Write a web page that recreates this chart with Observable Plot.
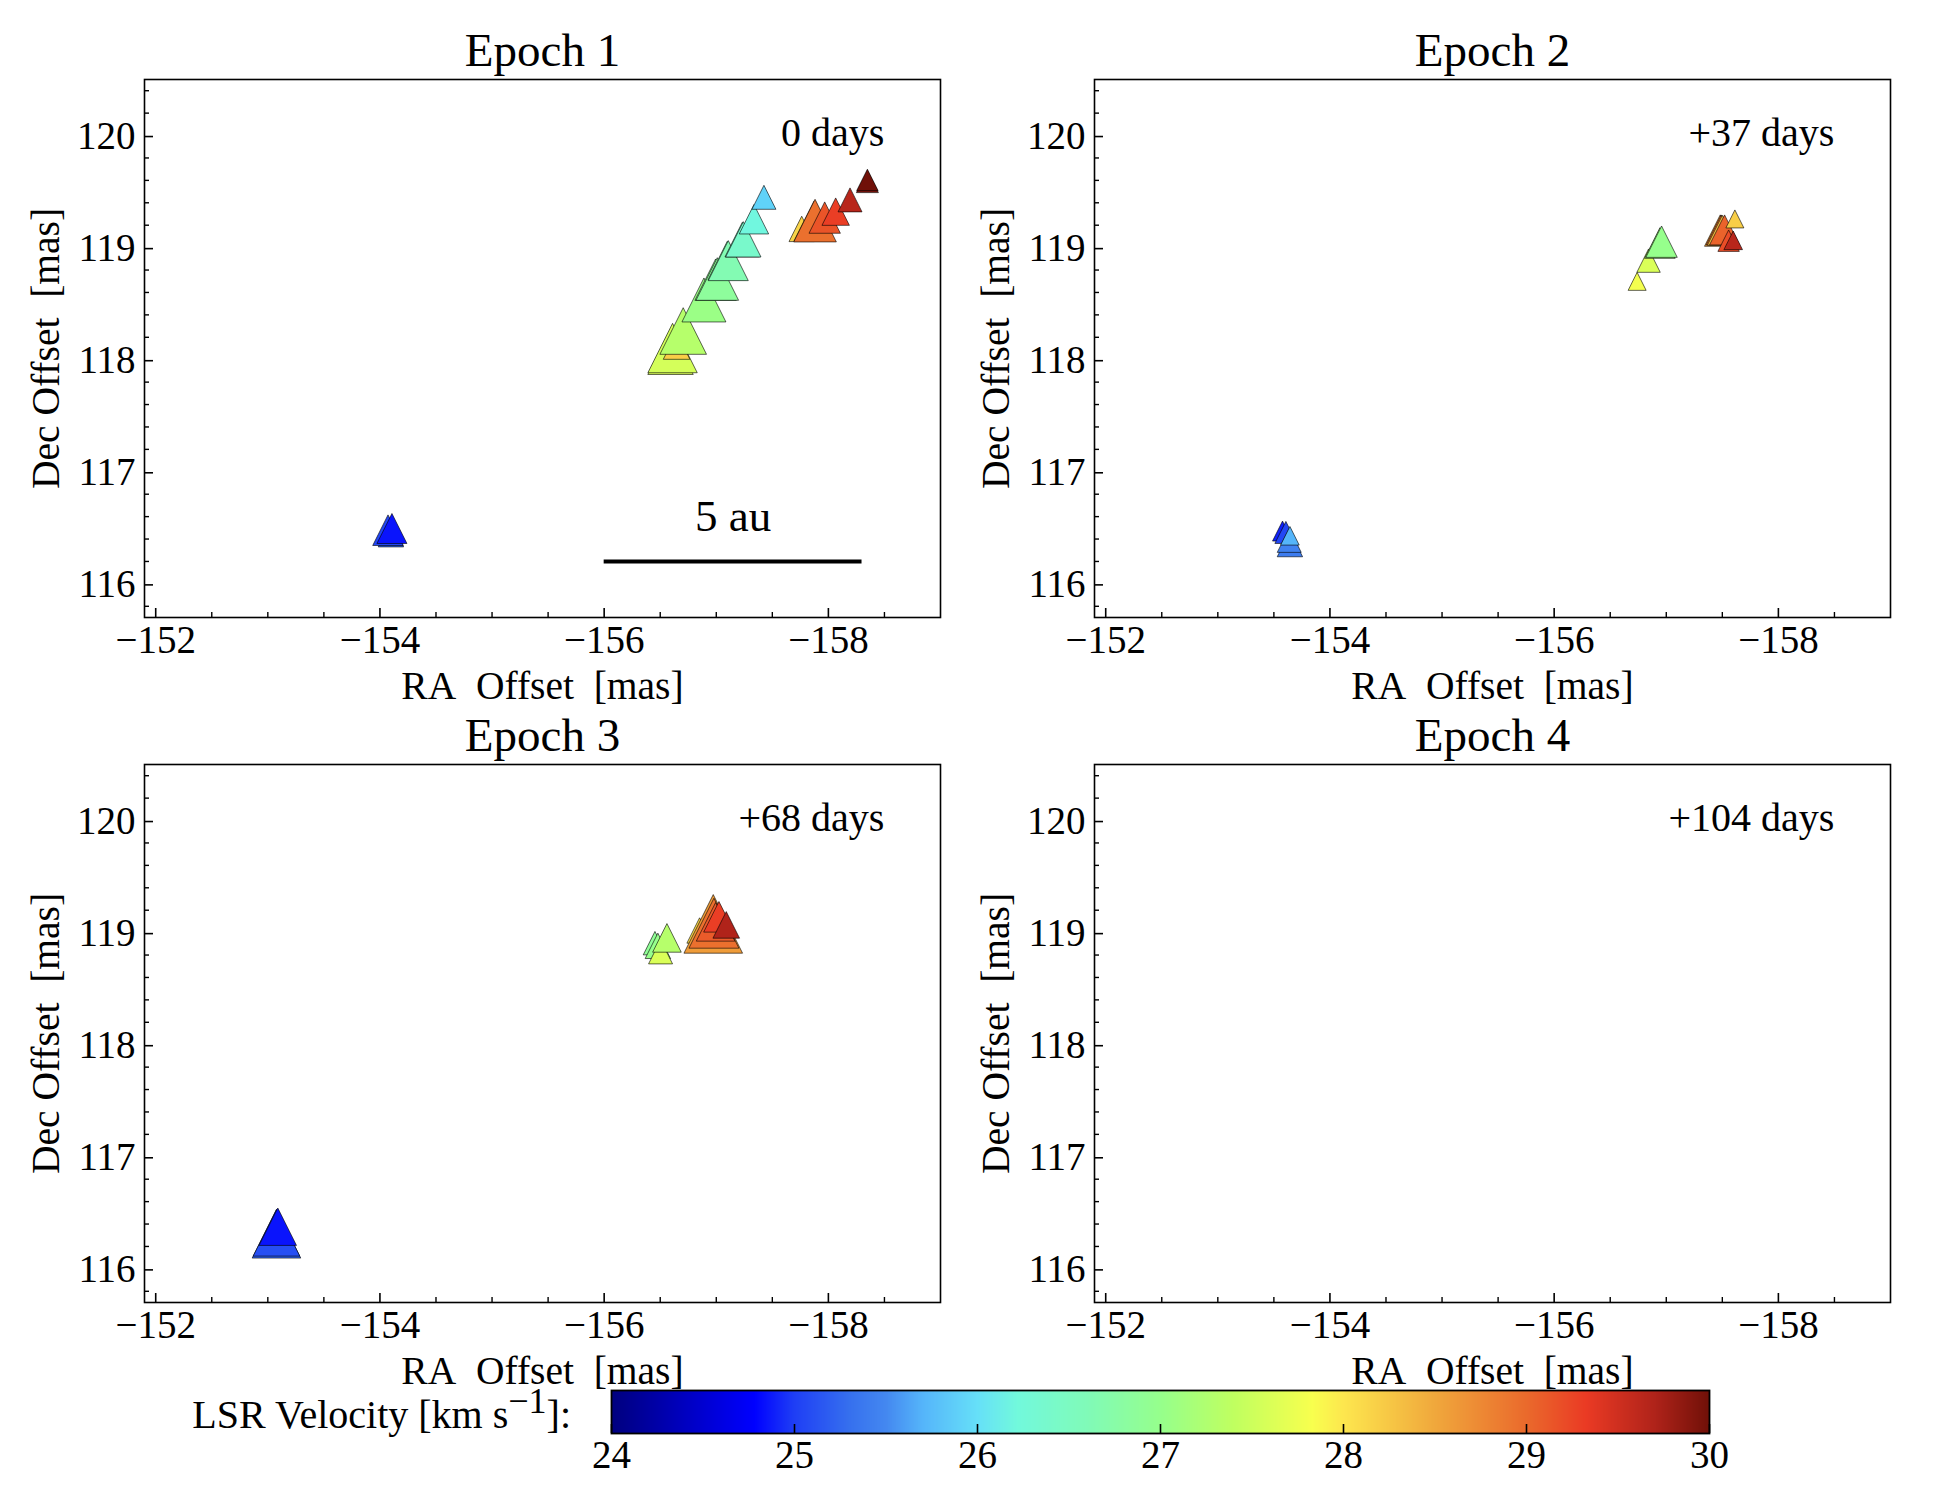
<!DOCTYPE html>
<html>
<head>
<meta charset="utf-8">
<script src="https://cdn.jsdelivr.net/npm/d3@7"></script>
<script src="https://cdn.jsdelivr.net/npm/@observablehq/plot@0.6"></script>
<style>
  html, body { margin: 0; padding: 0; background: #fff; }
  #figure { position: relative; width: 1944px; height: 1500px; overflow: hidden; }
  #figure > * { position: absolute; }
  #cbar-label {
    font-family: "Liberation Serif", serif; font-size: 40px; color: #000;
    right: calc(1944px - 571px); top: 1390px; white-space: nowrap; line-height: 50px;
  }
  #cbar-label sup { font-size: 36px; line-height: 0; vertical-align: 15px; }
</style>
</head>
<body>
<div id="figure"></div>
<script>
// Epoch 1
var ra1 = [-156.592, -156.61, -156.646, -156.705, -156.89, -156.994, -157.009, -157.098, -157.107, -157.232, -157.241, -157.336, -157.425, -157.762, -157.872, -157.881, -157.967, -158.065, -158.193, -158.348, -158.348, -154.098, -154.072, -154.107];
var dec1 = [118.071, 118.104, 118.122, 118.256, 118.533, 118.714, 118.72, 118.884, 118.884, 119.071, 119.074, 119.253, 119.449, 119.167, 119.238, 119.241, 119.268, 119.321, 119.426, 119.589, 119.604, 116.443, 116.479, 116.494];
var vel1 = [27.6, 27.55, 28.2, 27.3, 27.05, 26.9, 26.85, 26.7, 26.65, 26.45, 26.4, 26.2, 25.9, 28.15, 28.6, 28.95, 29.15, 29.3, 29.65, 29.95, 30, 25.25, 25.05, 24.85];
var flux1 = [7.57, 8.23, 4.43, 7.77, 7.33, 6.9, 7.1, 6.43, 6.67, 5.77, 5.9, 4.9, 4, 4.23, 6.67, 7.1, 5.23, 4.57, 4, 3.67, 3.57, 4.23, 5.1, 5];

// Epoch 2
var ra2 = [-156.74, -156.842, -156.943, -156.958, -157.481, -157.49, -157.5, -157.52, -157.556, -157.597, -157.612, -153.577, -153.607, -153.643, -153.637, -153.643];
var dec2 = [118.699, 118.884, 119.041, 119.053, 119.152, 119.158, 119.155, 119.158, 119.062, 119.065, 119.256, 116.471, 116.459, 116.355, 116.388, 116.429];
var vel2 = [27.8, 27.6, 27.1, 27.0, 28.6, 28.95, 28.3, 29.05, 29.2, 29.65, 28.2, 24.9, 25.05, 25.4, 25.45, 25.7];
var flux2 = [3, 3.9, 5.1, 5.23, 5.23, 5, 5, 5, 3.57, 3.1, 3, 3.33, 3.67, 4.23, 4, 3.1];

// Epoch 3
var ra3 = [-156.453, -156.479, -156.503, -156.56, -156.851, -156.973, -156.979, -156.994, -157.024, -157.089, -153.077, -153.077, -153.089];
var dec3 = [118.906, 118.882, 118.828, 118.953, 119.019, 119.078, 119.084, 119.096, 119.141, 119.069, 116.313, 116.322, 116.376];
var vel3 = [26.9, 27.0, 27.6, 27.3, 28.1, 28.6, 28.95, 29.1, 29.3, 29.7, 25.2, 25.1, 24.85];
var flux3 = [3.9, 4.23, 4, 4.77, 4.23, 9.77, 8.33, 6.43, 5.1, 4.43, 8.1, 7.77, 6.23];

// Epoch 4 has no detections
var ra4 = [];
var dec4 = [];
var vel4 = [];
var flux4 = [];

var epochTitles = ["Epoch 1", "Epoch 2", "Epoch 3", "Epoch 4"];
var epochNotes = ["0 days", "+37 days", "+68 days", "+104 days"];

var raDomain = [-151.9, -159];
var decDomain = [115.7, 120.5];
var raTicks = [-152, -154, -156, -158];
var raMinor = [-152.5, -153, -153.5, -154.5, -155, -155.5, -156.5, -157, -157.5, -158.5];
var decTicks = [116, 117, 118, 119, 120];
var decMinor = [115.8, 116.2, 116.4, 116.6, 116.8, 117.2, 117.4, 117.6, 117.8, 118.2, 118.4, 118.6, 118.8, 119.2, 119.4, 119.6, 119.8, 120.2, 120.4];

// scale bar and annotation position, in mas
var barRa = [-156, -158.3];
var barDec = [116.2];
var barLabelRa = [-157.15];
var barLabelDec = [116.6];
var noteRa = -158.5;
var noteDec = 120.02;

// LSR velocity colour map
var cmapStops = [24, 24.78, 25, 25.3, 25.5, 25.7, 26, 26.22, 26.6, 27, 27.4, 27.83, 28, 28.5, 29, 29.33, 29.7, 30];
var cmapColors = ["#00007f", "#0000ff", "#1f3ff5", "#3670ee", "#4488f0", "#55b5fa", "#66e0f8", "#72f9dc", "#80fab8", "#96ff8c", "#c0ff60", "#f8ff4e", "#fde74e", "#f0a83c", "#ea6a2c", "#ea3a24", "#b0231a", "#701008"];
var cbarTicks = [24, 25, 26, 27, 28, 29, 30];

var fontFamily = '"Liberation Serif", serif';
var colorScale = { type: "linear", domain: cmapStops, range: cmapColors, interpolate: "rgb" };

// matplotlib's '^' marker: width equals height, centred on its bounding box
var triangleUp = {
    draw: function(context, size) {
        var s = Math.sqrt(size / Math.PI);
        context.moveTo(0, -s);
        context.lineTo(s, s);
        context.lineTo(-s, s);
        context.closePath();
    }
};

function renderEpoch(index, ra, dec, vel, flux) {
    var rows = ra.map(function(d, i) {
        return { ra: d, dec: dec[i], vel: vel[i], flux: flux[i] };
    });

    var marks = [
        // sort: null keeps the array order, Plot otherwise draws big dots first
        Plot.dot(rows, {
            x: "ra",
            y: "dec",
            r: "flux",
            fill: "vel",
            symbol: triangleUp,
            stroke: "#000",
            strokeOpacity: 0.6,
            strokeWidth: 1,
            sort: null
        }),
        Plot.frame({ stroke: "#000", strokeWidth: 1.6 }),
        Plot.axisX({ ticks: raTicks, tickSize: -9, tickPadding: 17, fontSize: 39, label: null, strokeWidth: 1.6 }),
        Plot.axisX({ ticks: raMinor, tickSize: -5, text: null, label: null, strokeWidth: 1.4 }),
        Plot.axisY({ ticks: decTicks, tickSize: -9, tickPadding: 18, fontSize: 39, label: null, strokeWidth: 1.6, tickFormat: "d", dy: 1 }),
        Plot.axisY({ ticks: decMinor, tickSize: -5, text: null, label: null, strokeWidth: 1.4 }),
        Plot.text([epochTitles[index]], { frameAnchor: "top", lineAnchor: "middle", dy: -29, fontSize: 47 }),
        Plot.text(["RA\u00a0\u00a0Offset\u00a0\u00a0[mas]"], { frameAnchor: "bottom", lineAnchor: "middle", dy: 69, fontSize: 39.5 }),
        Plot.text(["Dec\u00a0Offset\u00a0\u00a0[mas]"], { frameAnchor: "left", textAnchor: "middle", lineAnchor: "middle", rotate: -90, dx: -98, fontSize: 39.5 }),
        Plot.text([epochNotes[index]], { x: [noteRa], y: [noteDec], textAnchor: "end", lineAnchor: "middle", fontSize: 40 })
    ];

    // the 5 au bar only appears in the first panel
    if (index === 0) {
        marks.push(Plot.ruleY(barDec, { x1: barRa[0], x2: barRa[1], stroke: "#000", strokeWidth: 4 }));
        marks.push(Plot.text(["5 au"], { x: barLabelRa, y: barLabelDec, lineAnchor: "middle", fontSize: 45 }));
    }

    var plot = Plot.plot({
        width: 950,
        height: 720,
        marginLeft: 144,
        marginRight: 10,
        marginTop: 79,
        marginBottom: 103,
        x: { domain: raDomain, axis: null },
        y: { domain: decDomain, axis: null },
        r: { type: "linear", domain: [0, 10], range: [0, 30] },
        color: colorScale,
        style: { fontFamily: fontFamily, background: "transparent", color: "#000", overflow: "visible" },
        marks: marks
    });
    plot.style.left = (index % 2 === 0 ? 0 : 950) + "px";
    plot.style.top = (index < 2 ? 0 : 685) + "px";
    return plot;
}

function renderColorbar() {
    var plot = Plot.plot({
        width: 1760,
        height: 110,
        marginLeft: 611,
        marginRight: 51,
        marginTop: 1,
        marginBottom: 66,
        x: { domain: [24, 30], axis: null },
        y: { domain: [0, 1], axis: null },
        color: colorScale,
        style: { fontFamily: fontFamily, background: "transparent", color: "#000", overflow: "visible" },
        marks: [
            Plot.raster({ fill: function(x, y) { return x; }, x1: 24, x2: 30, y1: 0, y2: 1, width: 1098, height: 1, imageRendering: "auto" }),
            Plot.frame({ stroke: "#000", strokeWidth: 1.8 }),
            Plot.axisX({ ticks: cbarTicks, tickSize: -9, tickPadding: 16, fontSize: 39, label: null, strokeWidth: 1.6, tickFormat: function(d) { return String(d); } })
        ]
    });
    plot.style.left = "0px";
    plot.style.top = "1389px";
    return plot;
}

var figure = document.getElementById("figure");
figure.appendChild(renderEpoch(0, ra1, dec1, vel1, flux1));
figure.appendChild(renderEpoch(1, ra2, dec2, vel2, flux2));
figure.appendChild(renderEpoch(2, ra3, dec3, vel3, flux3));
figure.appendChild(renderEpoch(3, ra4, dec4, vel4, flux4));
figure.appendChild(renderColorbar());

var cbarLabel = document.createElement("div");
cbarLabel.id = "cbar-label";
cbarLabel.innerHTML = "LSR Velocity [km s<sup>\u22121</sup>]:";
figure.appendChild(cbarLabel);
</script>
</body>
</html>
